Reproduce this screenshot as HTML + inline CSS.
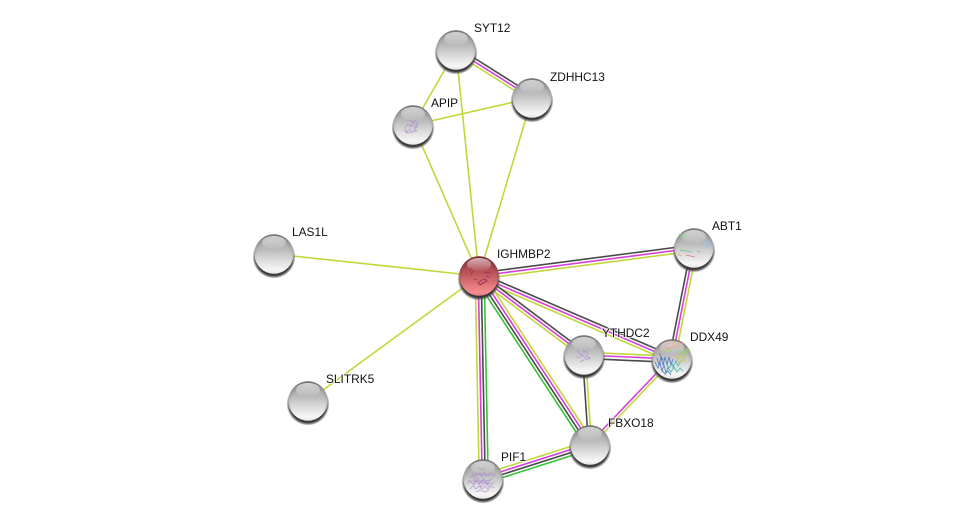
<!DOCTYPE html>
<html><head><meta charset="utf-8"><title>Network</title>
<style>
html,body{margin:0;padding:0;background:#fff;width:975px;height:524px;overflow:hidden}
svg{display:block}
text{font-family:"Liberation Sans",sans-serif;font-size:11.9px;fill:#111;paint-order:stroke;stroke:rgba(255,255,255,.7);stroke-width:2px}
.d,.m,.y,.g{stroke-width:1.6;fill:none}
.d{stroke:#4a4a4a}.m{stroke:#d83ed8}.y{stroke:#c3d63a}.g{stroke:#34c334}
</style></head><body>
<svg width="975" height="524" viewBox="0 0 975 524" xmlns="http://www.w3.org/2000/svg">
<defs>
<linearGradient id="b" x1="0" y1="0" x2="0" y2="1"><stop offset="0" stop-color="#989898"/><stop offset=".4" stop-color="#bcbcbc"/><stop offset=".68" stop-color="#dedede"/><stop offset=".9" stop-color="#f6f6f6"/><stop offset="1" stop-color="#e6e6e6"/></linearGradient>
<linearGradient id="br" x1="0" y1="0" x2="0" y2="1"><stop offset="0" stop-color="#983840"/><stop offset=".4" stop-color="#b85258"/><stop offset=".7" stop-color="#de7478"/><stop offset=".92" stop-color="#f48e92"/><stop offset="1" stop-color="#e07c80"/></linearGradient>
<radialGradient id="e" cx=".5" cy=".58" r=".6"><stop offset=".7" stop-color="#000" stop-opacity="0"/><stop offset=".88" stop-color="#000" stop-opacity=".12"/><stop offset="1" stop-color="#000" stop-opacity=".45"/></radialGradient>
<linearGradient id="h" x1="0" y1="0" x2="0" y2="1"><stop offset="0" stop-color="#fff" stop-opacity=".62"/><stop offset="1" stop-color="#fff" stop-opacity=".05"/></linearGradient>
<radialGradient id="s" cx=".5" cy=".5" r=".5"><stop offset=".86" stop-color="#303030" stop-opacity=".95"/><stop offset=".94" stop-color="#505050" stop-opacity=".55"/><stop offset="1" stop-color="#777" stop-opacity="0"/></radialGradient>
<g id="n"><circle cy="3" r="21.5" fill="url(#s)"/><circle r="19.7" fill="url(#b)"/><circle r="19.8" fill="url(#e)"/><ellipse cy="-11.5" rx="12" ry="6.5" fill="url(#h)"/></g>
<g id="r"><circle cy="3" r="21.5" fill="url(#s)"/><circle r="19.7" fill="url(#br)"/><circle r="19.8" fill="url(#e)"/><ellipse cy="-11.5" rx="12" ry="6.5" fill="url(#h)"/></g>
</defs>
<rect width="975" height="524" fill="#fff"/>

<line class="y" x1="456" y1="50" x2="413" y2="125"/>
<line class="y" x1="456" y1="50" x2="479" y2="276"/>
<line class="y" x1="532" y1="98" x2="413" y2="125"/>
<line class="y" x1="532" y1="98" x2="479" y2="276"/>
<line class="y" x1="413" y1="125" x2="479" y2="276"/>
<line class="y" x1="274" y1="254" x2="479" y2="276"/>
<line class="y" x1="308" y1="401" x2="479" y2="276"/>

<!-- SYT12 - ZDHHC13 -->
<line class="d" x1="457.6" y1="47.5" x2="533.6" y2="95.5"/>
<line class="m" x1="456" y1="50" x2="532" y2="98"/>
<line class="y" x1="454.4" y1="52.5" x2="530.4" y2="100.5"/>

<!-- IGHMBP2 - ABT1 -->
<line class="d" x1="478.6" y1="273" x2="693.6" y2="245"/>
<line class="m" x1="479" y1="276" x2="694" y2="248"/>
<line class="y" x1="479.4" y1="279" x2="694.4" y2="251"/>

<!-- IGHMBP2 - DDX49 -->
<line class="d" x1="480.2" y1="273.2" x2="673.2" y2="356.2"/>
<line class="m" x1="479" y1="276" x2="672" y2="359"/>
<line class="y" x1="477.8" y1="278.8" x2="670.8" y2="361.8"/>

<!-- IGHMBP2 - YTHDC2 -->
<line class="d" x1="480.8" y1="273.6" x2="585.8" y2="352.6"/>
<line class="m" x1="479" y1="276" x2="584" y2="355"/>
<line class="y" x1="477.2" y1="278.4" x2="582.2" y2="357.4"/>

<!-- IGHMBP2 - FBXO18 -->
<line class="y" x1="482.8" y1="273.5" x2="593.8" y2="442.5"/>
<line class="m" x1="480.3" y1="275.2" x2="591.3" y2="444.2"/>
<line class="d" x1="477.7" y1="276.8" x2="588.7" y2="445.8"/>
<line class="g" x1="475.2" y1="278.5" x2="586.2" y2="447.5"/>

<!-- IGHMBP2 - PIF1 -->
<line class="y" x1="475.2" y1="276" x2="479.2" y2="479"/>
<line class="m" x1="478.2" y1="276" x2="482.2" y2="479"/>
<line class="d" x1="481.2" y1="276" x2="485.2" y2="479"/>
<line class="g" x1="484.2" y1="276" x2="488.2" y2="479"/>

<!-- PIF1 - FBXO18 -->
<line class="y" x1="481.6" y1="474.7" x2="588.6" y2="440.7"/>
<line class="m" x1="482.5" y1="477.6" x2="589.5" y2="443.6"/>
<line class="d" x1="483.5" y1="480.4" x2="590.5" y2="446.4"/>
<line class="g" x1="484.4" y1="483.3" x2="591.4" y2="449.3"/>

<!-- YTHDC2 - DDX49 -->
<line class="y" x1="584" y1="352.2" x2="672" y2="356.2"/>
<line class="m" x1="584" y1="355" x2="672" y2="359"/>
<line class="d" x1="584" y1="358.4" x2="672" y2="362.4"/>

<!-- ABT1 - DDX49 -->
<line class="d" x1="691.1" y1="247.4" x2="669.1" y2="358.4"/>
<line class="m" x1="694" y1="248" x2="672" y2="359"/>
<line class="y" x1="696.9" y1="248.6" x2="674.9" y2="359.6"/>

<!-- YTHDC2 - FBXO18 -->
<line class="d" x1="582.5" y1="355" x2="588.5" y2="445"/>
<line class="y" x1="585.5" y1="355" x2="591.5" y2="445"/>

<!-- DDX49 - FBXO18 -->
<line class="m" x1="671" y1="358" x2="589" y2="444"/>
<line class="y" x1="673" y1="360" x2="591" y2="446"/>

<!-- nodes -->
<use href="#n" x="456" y="50"/>
<use href="#n" x="532" y="98"/>
<use href="#n" x="413" y="125"/>
<use href="#n" x="274" y="254"/>
<use href="#r" x="479" y="276"/>
<use href="#n" x="694" y="248"/>
<use href="#n" x="584" y="355"/>
<use href="#n" x="672" y="359"/>
<use href="#n" x="308" y="401"/>
<use href="#n" x="590" y="445"/>
<use href="#n" x="483" y="479"/>

<!-- structure textures -->
<g fill="none" stroke="#b088d0" stroke-width=".7" opacity=".8">
<path d="M405 128l3-4 3 3 2-5 3 3 2-3-1 5-3 1 3 3-5 1-2-3-3 3zM409 120l5 2 2-2M407 133l6-1 3-3M404 130l3 3M410 125l4 1 3 2"/>
<path d="M577 351l4 4 3-5 4 3-2 4 5 1M579 358l4-3 3 5 4-2M583 349l2 4M576 356l3 2M580 362l4-2M587 348l3 3"/>
<path d="M470 478l3-4 2 3 3-4 3 3 3-4 3 4 3-3 3 3 3-2M467 484l3-3 3 3 3-3 3 3 3-3 3 3 3-2 3 3 3-3M470 489l3-3 3 3 3-3 3 3 3-3 3 3 3-3 3 2M474 472l3 3 3-2 3 4 3-3 3 2M478 467l4 3 3-2M468 480l4 2 3-2 4 2 4-2 5 1 4-2M476 492l4-2 5 2 4-2M472 475l3 6 3-3 3 5 3-4 4 5 3-5M473 486l4-6 4 7 4-6 4 6"/>
</g>
<g fill="none" stroke-width=".8">
<path d="M469 271l3-3M471 275l2-4M484 272l4 1 3-1M478 283l4-3 3-1 2 2-4 2-3 2zM486 276l3 1M474 279l3 1" stroke="#a03858" stroke-width="1.1"/>
<path d="M680 238l4-4 1 3-3 3M679 234l3 1" stroke="#90d890"/>
<path d="M680 250l12 2M697 251l3 1" stroke="#62c090"/>
<path d="M704 243l3-3 2 4-3 2 3 2M706 240l3 3" stroke="#88c4e8"/>
<path d="M686 255l9 2" stroke="#d88070"/>
<path d="M678 254l3 2" stroke="#e0a860"/>
<path d="M660 352l6-5 4 2 5-4 6 1M664 345l8-3 7 2 6-1M668 348l6-2 5 2" stroke="#eeaa90"/>
<path d="M657 358l2 7 2-8 2 8 2-8 2 8 2-8 2 8 2-6M655 362l3 6 2-5 2 8 2-6 2 8 2-6" stroke="#5078c8"/>
<path d="M659 353l4 7M661 369l4 5 3-3 3 4" stroke="#4a80c0"/>
<path d="M668 368l3 4 3-5 3 5 3-4 3 3M671 361l2 6 3-6 2 5 3-5M666 363l3 5 3-4 3 5" stroke="#48b8b0"/>
<path d="M675 354l3 5 3-4 3 3 2-4M677 360l3 3 3-4 2 3" stroke="#c8c848"/>
<path d="M664 352l4-3 3 3M678 351l5 2 4-4 3 1M682 356l4-3 3-2" stroke="#90d860"/>
</g>

<!-- labels -->
<text x="474" y="32">SYT12</text>
<text x="550" y="81">ZDHHC13</text>
<text x="431" y="107">APIP</text>
<text x="292" y="236">LAS1L</text>
<text x="497" y="258">IGHMBP2</text>
<text x="712" y="230">ABT1</text>
<text x="602" y="337">YTHDC2</text>
<text x="690" y="341">DDX49</text>
<text x="326" y="383">SLITRK5</text>
<text x="608" y="427">FBXO18</text>
<text x="501" y="461">PIF1</text>
</svg>
</body></html>
